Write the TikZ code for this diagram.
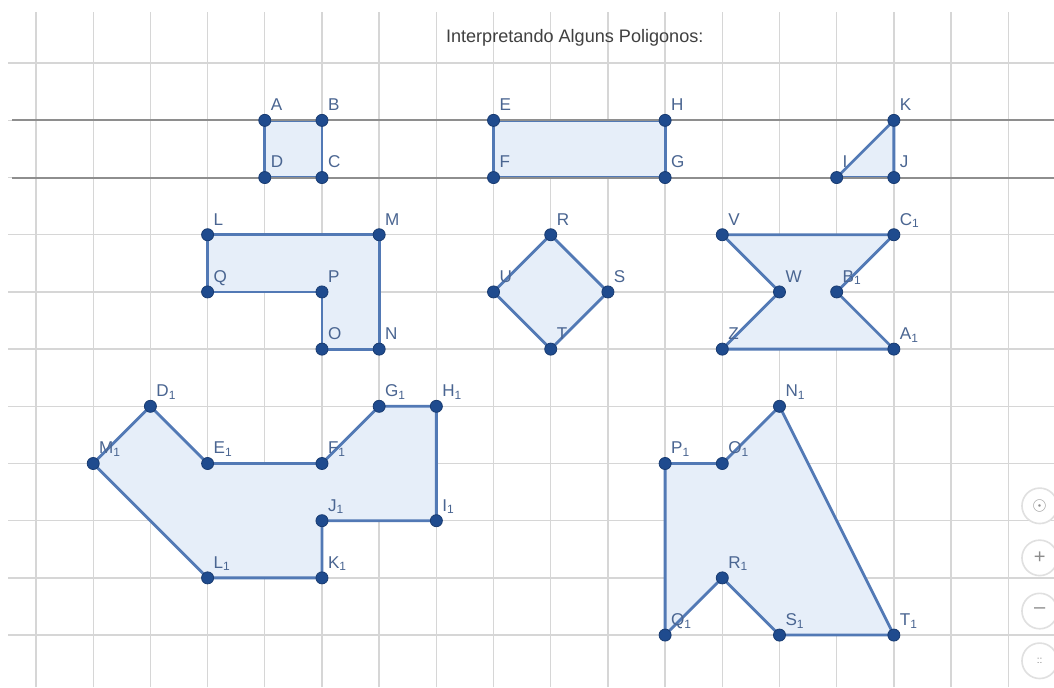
\documentclass[tikz,border=0pt]{standalone}
\usepackage{fontspec}
\setmainfont{Liberation Sans}
\usepackage{tikz}
\usepackage{xcolor}

\definecolor{gridgray}{HTML}{D6D6D6}
\definecolor{linegray}{HTML}{8E8E8E}
\definecolor{polyedge}{HTML}{5279B5}
\definecolor{polyfill}{HTML}{E6EEF9}
\definecolor{ptblue}{HTML}{1F4B8E}
\definecolor{lblblue}{HTML}{4A6591}

\begin{document}
\begin{tikzpicture}%
  \tikzstyle{poly}=[draw=polyedge,fill=polyfill,line width=1.4pt,line join=round]
  \tikzstyle{gline}=[draw=linegray,line width=1pt]
  \tikzstyle{pnt}=[circle,fill=ptblue,draw=ptblue!80!black,inner sep=0,minimum size=6pt]
  \tikzstyle{plbl}=[anchor=base west,inner sep=0,xshift=2.8pt,yshift=4.8pt,
    text=lblblue,font=\fontsize{8.5}{9}\selectfont]
  \tikzstyle{uibtn}=[circle,draw=black!12,fill=white,line width=0.8pt,minimum size=0.62cm,
    inner sep=0,text=black!45]
  \useasboundingbox[fill=white] (-0.63,0.09) rectangle (17.8,12.105);
  % grid
  \foreach \x in {0,...,17} \draw[gridgray,line width=0.7pt] (\x,0.09) -- (\x,11.9);
  \foreach \y in {1,...,11} \draw[gridgray,line width=0.7pt] (-0.49,\y) -- (17.8,\y);
  % points
  \coordinate (A) at (4,10); \coordinate (B) at (5,10);
  \coordinate (C) at (5,9);  \coordinate (D) at (4,9);
  \coordinate (E) at (8,10); \coordinate (H) at (11,10);
  \coordinate (G) at (11,9); \coordinate (F) at (8,9);
  \coordinate (K) at (15,10); \coordinate (J) at (15,9); \coordinate (I) at (14,9);
  \coordinate (L) at (3,8); \coordinate (M) at (6,8); \coordinate (N) at (6,6);
  \coordinate (O) at (5,6); \coordinate (P) at (5,7); \coordinate (Q) at (3,7);
  \coordinate (R) at (9,8); \coordinate (S) at (10,7);
  \coordinate (T) at (9,6); \coordinate (U) at (8,7);
  \coordinate (V) at (12,8); \coordinate (C1) at (15,8); \coordinate (B1) at (14,7);
  \coordinate (A1) at (15,6); \coordinate (Z) at (12,6); \coordinate (W) at (13,7);
  \coordinate (D1) at (2,5); \coordinate (E1) at (3,4); \coordinate (F1) at (5,4);
  \coordinate (G1) at (6,5); \coordinate (H1) at (7,5); \coordinate (I1) at (7,3);
  \coordinate (J1) at (5,3); \coordinate (K1) at (5,2); \coordinate (L1) at (3,2);
  \coordinate (M1) at (1,4);
  \coordinate (N1) at (13,5); \coordinate (O1) at (12,4); \coordinate (P1) at (11,4);
  \coordinate (Q1) at (11,1); \coordinate (R1) at (12,2); \coordinate (S1) at (13,1);
  \coordinate (T1) at (15,1);
  % polygons
  \draw[poly] (A) -- (B) -- (C) -- (D) -- cycle;
  \draw[poly] (E) -- (H) -- (G) -- (F) -- cycle;
  \draw[poly] (K) -- (J) -- (I) -- cycle;
  \draw[poly] (L) -- (M) -- (N) -- (O) -- (P) -- (Q) -- cycle;
  \draw[poly] (R) -- (S) -- (T) -- (U) -- cycle;
  \draw[poly] (V) -- (C1) -- (B1) -- (A1) -- (Z) -- (W) -- cycle;
  \draw[poly] (D1) -- (E1) -- (F1) -- (G1) -- (H1) -- (I1) -- (J1) -- (K1) -- (L1) -- (M1) -- cycle;
  \draw[poly] (N1) -- (O1) -- (P1) -- (Q1) -- (R1) -- (S1) -- (T1) -- cycle;
  % lines through A,B and D,C
  \coordinate (ab0) at (-0.42,10); \coordinate (ab1) at (17.8,10);
  \coordinate (dc0) at (-0.42,9);  \coordinate (dc1) at (17.8,9);
  \draw[gline] (ab0) -- (A) -- (B) -- (ab1);
  \draw[gline] (dc0) -- (D) -- (C) -- (dc1);
  % dots and labels
  \foreach \n/\t in {A/A,B/B,C/C,D/D,E/E,F/F,G/G,H/H,I/I,J/J,K/K,L/L,M/M,N/N,O/O,P/P,Q/Q,
      R/R,S/S,T/T,U/U,V/V,W/W,Z/Z,
      A1/A\textsubscript{1},B1/B\textsubscript{1},C1/C\textsubscript{1},D1/D\textsubscript{1},
      E1/E\textsubscript{1},F1/F\textsubscript{1},G1/G\textsubscript{1},H1/H\textsubscript{1},
      I1/I\textsubscript{1},J1/J\textsubscript{1},K1/K\textsubscript{1},L1/L\textsubscript{1},
      M1/M\textsubscript{1},N1/N\textsubscript{1},O1/O\textsubscript{1},P1/P\textsubscript{1},
      Q1/Q\textsubscript{1},R1/R\textsubscript{1},S1/S\textsubscript{1},T1/T\textsubscript{1}}
    {\node[pnt] (p\n) at (\n) {}; \node[plbl] (l\n) at (\n) {\t};}
  % title
  \node(title)[text=black!75,font=\fontsize{9}{10}\selectfont] at (9.42,11.44)
    {Interpretando Alguns Poligonos:};
  % view buttons
  \node(eye)[uibtn] at (17.55,3.26) {\fontsize{9}{9}\selectfont$\odot$};
  \node(zin)[uibtn] at (17.55,2.35) {\fontsize{10}{10}\selectfont +};
  \node(zout)[uibtn] at (17.55,1.42) {\fontsize{10}{10}\selectfont --};
  \node(full)[uibtn] at (17.55,0.55) {\fontsize{5}{5}\selectfont ::};
\end{tikzpicture}
\end{document}
